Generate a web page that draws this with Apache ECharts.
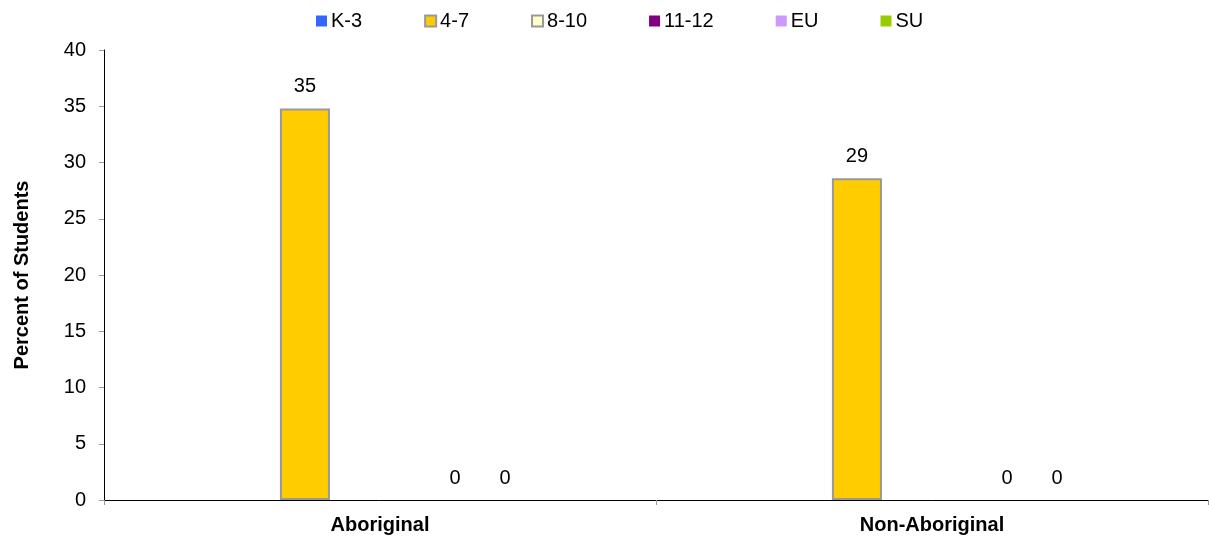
<!DOCTYPE html>
<html><head><meta charset="utf-8">
<script src="https://cdn.jsdelivr.net/npm/echarts@6/dist/echarts.min.js"></script>
<style>html,body{margin:0;padding:0;background:#fff}#c{width:1209px;height:538px}</style>
</head><body><div id="c"></div>
<script>
const categories = ['Aboriginal', 'Non-Aboriginal'];
const seriesNames = ['K-3', '4-7', '8-10', '11-12', 'EU', 'SU'];
const k3 = [null, null];
const g47 = [34.8, 28.6];
const g810 = [null, null];
const g1112 = [null, null];
const eu = [0, 0];
const su = [0, 0];
const yTicks = [0, 5, 10, 15, 20, 25, 30, 35, 40];

const colors = ['#3366FF', '#FFCC00', '#FFFFCC', '#800080', '#CC99FF', '#99CC00'];
const borders = [null, '#999999', '#999999', null, null, null];
const allData = [k3, g47, g810, g1112, eu, su];

const chart = echarts.init(document.getElementById('c'));
const font = 'Liberation Sans, Arial, sans-serif';
chart.setOption({
  animation: false,
  textStyle: {fontFamily: font},
  legend: {
    top: 6, left: 311, itemWidth: 11, itemHeight: 11, itemGap: 62,
    textStyle: {fontSize: 20, color: '#000', fontFamily: font, padding: [0,0,0,-1]},
    data: seriesNames.map((n, i) => ({name: n, icon: 'rect',
      itemStyle: {color: colors[i], borderColor: borders[i] || colors[i], borderWidth: borders[i] ? 2 : 0}}))
  },
  grid: {left: 104, right: 1, top: 50, bottom: 38, containLabel: false},
  xAxis: {
    type: 'category', data: categories,
    axisLine: {lineStyle: {color: '#000', width: 1}},
    axisTick: {show: true, length: 5, lineStyle: {color: '#999'}},
    axisLabel: {fontSize: 20, fontWeight: 'bold', color: '#000', margin: 15, fontFamily: font}
  },
  yAxis: {
    type: 'value', min: 0, max: 40, interval: 5,
    name: 'Percent of Students', nameLocation: 'middle', nameGap: 72, nameRotate: 90,
    nameTextStyle: {fontSize: 20, fontWeight: 'bold', color: '#000', fontFamily: font},
    axisLine: {show: true, lineStyle: {color: '#000', width: 1}},
    axisTick: {show: true, length: 5, lineStyle: {color: '#999'}},
    splitLine: {show: false},
    axisLabel: {fontSize: 20, color: '#000', margin: 18, fontFamily: font,
      formatter: v => yTicks.includes(v) ? String(v) : ''}
  },
  series: seriesNames.map((n, i) => ({
    name: n, type: 'bar', data: allData[i],
    barGap: '0%', barCategoryGap: '45.6%',
    itemStyle: {color: colors[i], borderColor: borders[i] || colors[i], borderWidth: borders[i] ? 2 : 0},
    label: {show: true, position: 'top', distance: 12, fontSize: 20, color: '#000', fontFamily: font,
      formatter: p => (p.value === null || p.value === undefined) ? '' : String(Math.round(p.value))}
  }))
});
</script></body></html>
